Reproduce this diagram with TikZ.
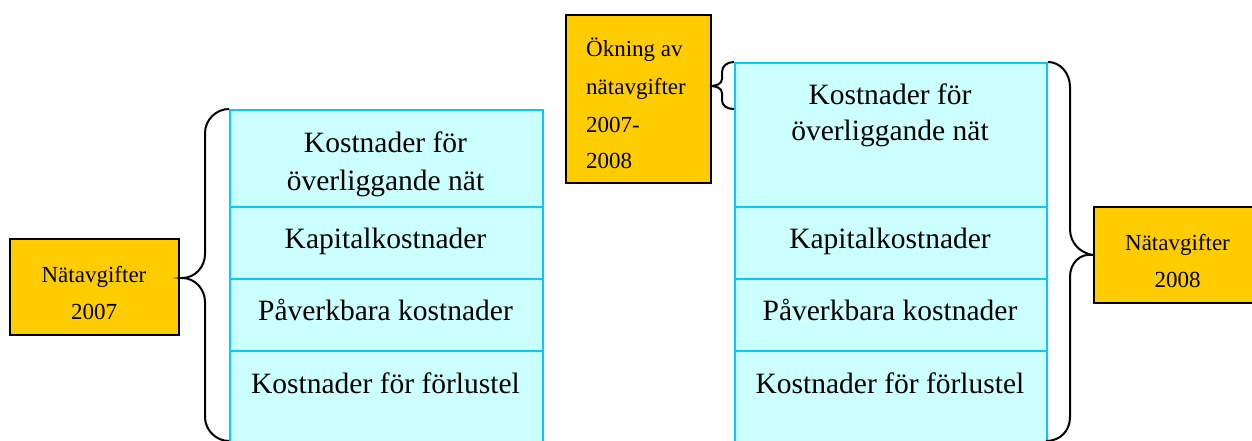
\documentclass[tikz,border=0pt]{standalone}
\usepackage{fontspec}
\setmainfont{Liberation Serif}
\definecolor{cellfill}{HTML}{CCFFFF}
\definecolor{cellline}{HTML}{00CCFF}
\definecolor{boxfill}{HTML}{FFCC00}
\begin{document}
\begin{tikzpicture}[x=1pt,y=-1pt,
  cell/.style={draw=cellline, fill=cellfill, line width=2pt, anchor=north west, inner sep=0pt},
  ybox/.style={draw=black, fill=boxfill, line width=2pt, anchor=north west, inner sep=0pt},
  ctext/.style={anchor=base, font=\fontsize{29.5}{34}\selectfont, inner sep=0pt},
  otext/.style={anchor=base, font=\fontsize{23}{27}\selectfont, inner sep=0pt},
  brace/.style={draw=black, line width=2pt}]
\useasboundingbox (0,0) rectangle (1252,441);
\clip (0,0) rectangle (1252,441);
% left column
\node[cell, minimum width=313pt, minimum height=97pt] (L1) at (229,109) {};
\node[cell, minimum width=313pt, minimum height=72pt] (L2) at (229,206) {};
\node[cell, minimum width=313pt, minimum height=72pt] (L3) at (229,278) {};
\node[cell, minimum width=313pt, minimum height=110pt] (L4) at (229,350) {};
\node[ctext] (l1a) at (385.5,153) {Kostnader för};
\node[ctext] (l1b) at (385.5,190) {överliggande nät};
\node[ctext] (l2) at (385.5,248) {Kapitalkostnader};
\node[ctext] (l3) at (385.5,320) {Påverkbara kostnader};
\node[ctext] (l4) at (385.5,393) {Kostnader för förlustel};
% right column
\node[cell, minimum width=312pt, minimum height=144pt] (R1) at (734,62) {};
\node[cell, minimum width=312pt, minimum height=72pt] (R2) at (734,206) {};
\node[cell, minimum width=312pt, minimum height=72pt] (R3) at (734,278) {};
\node[cell, minimum width=312pt, minimum height=110pt] (R4) at (734,350) {};
\node[ctext] (r1a) at (890,105) {Kostnader för};
\node[ctext] (r1b) at (890,140) {överliggande nät};
\node[ctext] (r2) at (890,248) {Kapitalkostnader};
\node[ctext] (r3) at (890,320) {Påverkbara kostnader};
\node[ctext] (r4) at (890,393) {Kostnader för förlustel};
% yellow boxes
\node[ybox, minimum width=169pt, minimum height=96pt] (O1) at (9,238) {};
\node[otext] (o1a) at (94,282) {Nätavgifter};
\node[otext] (o1b) at (94,319) {2007};
\node[ybox, minimum width=145pt, minimum height=168pt] (O2) at (565,14) {};
\node[otext, anchor=base west] (o2a) at (586,57) {Ökning av};
\node[otext, anchor=base west] (o2b) at (586,95) {nätavgifter};
\node[otext, anchor=base west] (o2c) at (586,132) {2007-};
\node[otext, anchor=base west] (o2d) at (586,168) {2008};
\node[ybox, minimum width=169pt, minimum height=96pt] (O3) at (1093,206) {};
\node[otext] (o3a) at (1177.5,250) {Nätavgifter};
\node[otext] (o3b) at (1177.5,287) {2008};
% brace end points
\coordinate (TL) at (182,278);
\coordinate (LB) at (229,441);
\coordinate (TS) at (710,86);
\coordinate (SB) at (734,109);
\coordinate (RB) at (1046,441);
% braces
\draw[brace] (L1.north west) .. controls (216,109) and (205,120) .. (205,133) -- (205,254)
  .. controls (205,267) and (195,278) .. (TL)
  .. controls (195,278) and (205,289) .. (205,302) -- (205,417)
  .. controls (205,430) and (216,441) .. (LB);
\draw[brace] (R1.north west) .. controls (727,62) and (722,66) .. (722,72) -- (722,79)
  .. controls (722,84) and (716,86) .. (TS)
  .. controls (716,86) and (722,88) .. (722,93) -- (722,100)
  .. controls (722,106) and (727,109) .. (SB);
\draw[brace] (R1.north east) .. controls (1060,62) and (1070,73) .. (1070,87) -- (1070,229)
  .. controls (1070,243) and (1080,253) .. (O3.west)
  .. controls (1080,253) and (1070,263) .. (1070,277) -- (1070,417)
  .. controls (1070,431) and (1060,441) .. (RB);
\end{tikzpicture}
\end{document}
